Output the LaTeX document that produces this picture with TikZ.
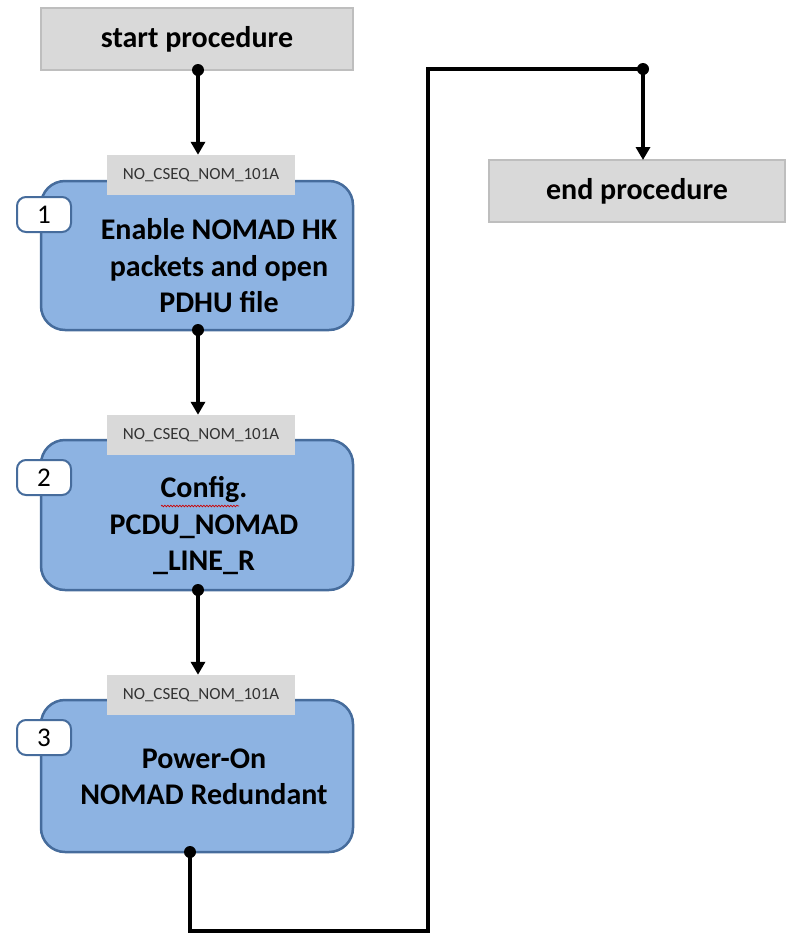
\documentclass[tikz,border=0pt]{standalone}
\usepackage{fontspec}
\setmainfont{Carlito}
\usetikzlibrary{arrows.meta,decorations.pathmorphing}
\definecolor{boxblue}{RGB}{141,179,226}
\definecolor{boxedge}{RGB}{70,108,156}
\definecolor{grayfill}{RGB}{217,217,217}
\definecolor{grayedge}{RGB}{190,190,190}
\begin{document}
\begin{tikzpicture}[x=1pt,y=-1pt,
 termbox/.style={draw=grayedge,line width=2pt,fill=grayfill,minimum height=62pt,inner sep=0pt,font=\fontsize{30}{36}\selectfont\bfseries},
 stepbox/.style={draw=boxedge,line width=2.5pt,fill=boxblue,rounded corners=24pt,minimum width=312pt,inner sep=0pt},
 steptext/.style={align=center,font=\fontsize{30}{36.5}\selectfont\bfseries,inner sep=0pt},
 tagbox/.style={fill=grayfill,minimum width=188pt,minimum height=40pt,inner sep=0pt,font=\fontsize{17}{19}\selectfont,text=black!80},
 numbox/.style={draw=boxedge,line width=2pt,fill=white,rounded corners=9pt,minimum width=54pt,minimum height=35pt,inner sep=0pt,font=\fontsize{27}{29}\selectfont},
 conn/.style={line width=4pt,line join=miter,-{Triangle[width=14pt,length=13pt]}},
 dotmark/.style={fill=black},
]
\useasboundingbox (0,0) rectangle (788,935);

% terminal boxes
\node[termbox,minimum width=312pt] (start) at (197,39) {start procedure};
\node[termbox,minimum width=296pt] (end) at (637,191) {end procedure};

% step 1
\node[stepbox,minimum height=149pt] (box1) at (197,255.5) {};
\node[tagbox] (tag1) at (201,175) {NO\_CSEQ\_NOM\_101A};
\node[numbox] (num1) at (44,214.5) {1};
\node[steptext] (t1) at (219,266) {Enable NOMAD HK\\packets and open\\PDHU file};

% step 2
\node[stepbox,minimum height=150pt] (box2) at (197,515) {};
\node[tagbox] (tag2) at (201,435) {NO\_CSEQ\_NOM\_101A};
\node[numbox] (num2) at (44,477.5) {2};
\node[steptext] (t2) at (204,526) {Config.\\PCDU\_NOMAD\\\_LINE\_R};
\draw[red!80!black,line width=0.7pt,decorate,decoration={snake,amplitude=0.8pt,segment length=3pt}] (161,506) -- (239,506);

% step 3
\node[stepbox,minimum height=152pt] (box3) at (197,776) {};
\node[tagbox] (tag3) at (201,695) {NO\_CSEQ\_NOM\_101A};
\node[numbox] (num3) at (44,737.5) {3};
\node[steptext] (t3) at (204,777) {Power-On\\NOMAD Redundant};

% connectors
\coordinate (s1) at (198,70);
\coordinate (s2) at (198,330);
\coordinate (s3) at (198,590);
\coordinate (s4) at (190,852);
\coordinate (lowL) at (190,931);
\coordinate (lowR) at (428,931);
\coordinate (topL) at (428,69);
\coordinate (topR) at (643,69);
\coordinate (endin) at (643,160);

\draw[conn] (s1) -- (s1 |- tag1.north);
\draw[conn] (s2) -- (s2 |- tag2.north);
\draw[conn] (s3) -- (s3 |- tag3.north);
\draw[conn] (s4) -- (lowL) -- (lowR) -- (topL) -- (topR) -- (endin);

\foreach \p in {s1,s2,s3,s4,topR} \fill[dotmark] (\p) circle (6pt);
\end{tikzpicture}
\end{document}
